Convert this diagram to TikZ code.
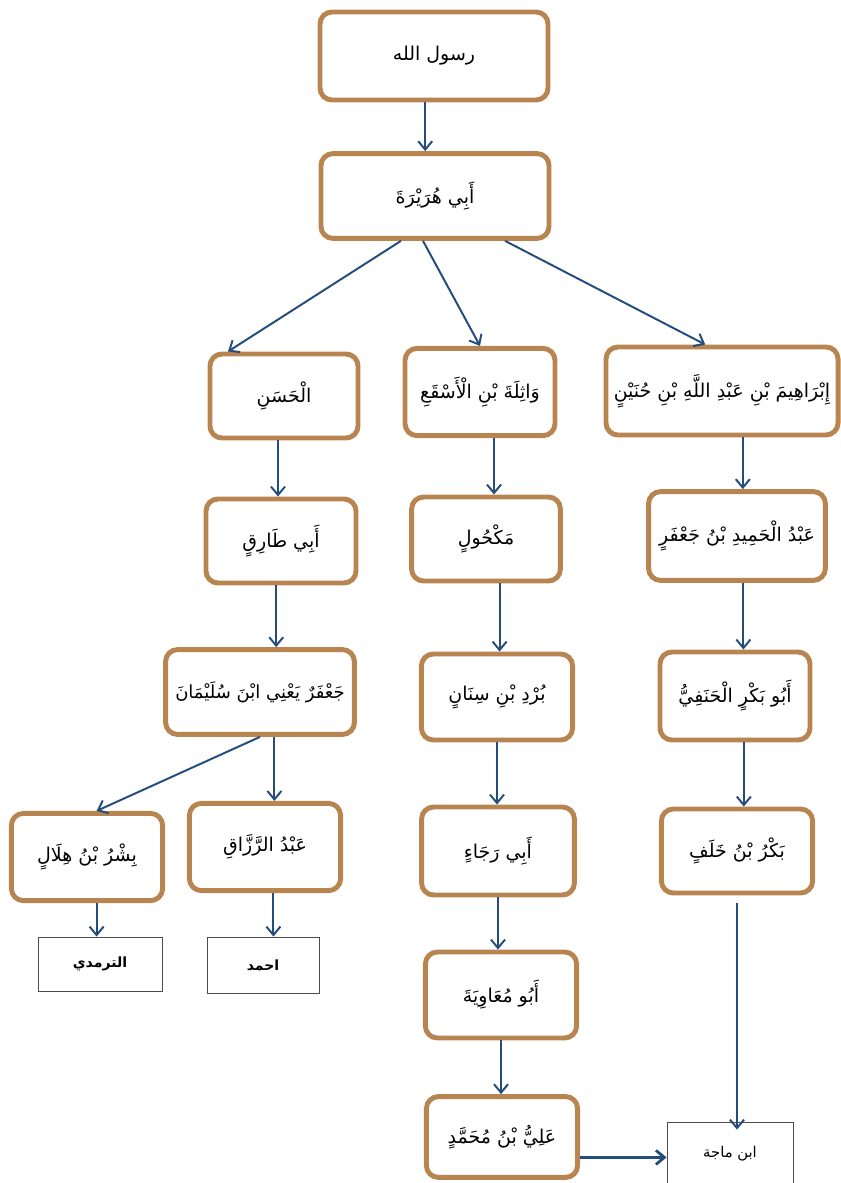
\documentclass[tikz,border=0pt]{standalone}
\usepackage{fontspec}
\newfontfamily\arabicfont[Script=Arabic]{DejaVu Sans}
\TeXXeTstate=1
\usetikzlibrary{arrows.meta}

\definecolor{boxbrown}{RGB}{184,132,80}
\definecolor{linkblue}{RGB}{36,76,124}
\newcommand{\ar}[1]{\beginR #1\endR}

\begin{document}
\begin{tikzpicture}[x=0.025cm, y=-0.025cm,
    narrator/.style={draw=boxbrown, line width=3.5pt, rounded corners=0.3cm, fill=white,
        font=\arabicfont\fontsize{13.5}{15}\selectfont},
    book/.style={draw=black!70, line width=0.6pt, fill=white,
        font=\arabicfont\fontsize{10.5}{12}\selectfont},
    link/.style={draw=linkblue, line width=1.4pt, -{Straight Barb[length=6pt,width=10pt]}}]
    \useasboundingbox (0,0) rectangle (841,1183);

    \node[narrator, minimum width=5.7cm, minimum height=2.2cm] (v1) at (434,56) {\ar{رسول الله}};
    \node[narrator, minimum width=5.7cm, minimum height=2.12cm] (v2) at (435,196) {\ar{أَبِي هُرَيْرَةَ}};
    \node[narrator, minimum width=3.7cm, minimum height=2.1cm] (v3) at (284,396) {\ar{الْحَسَنِ}};
    \node[narrator, minimum width=3.75cm, minimum height=2.18cm] (v4) at (480,392) {\ar{وَاثِلَةَ بْنِ الْأَسْقَعِ}};
    \node[narrator, minimum width=5.8cm, minimum height=2.2cm] (v5) at (722,391) {\ar{إِبْرَاهِيمَ بْنِ عَبْدِ اللَّهِ بْنِ حُنَيْنٍ}};
    \node[narrator, minimum width=3.75cm, minimum height=2.1cm] (v6) at (281,541) {\ar{أَبِي طَارِقٍ}};
    \node[narrator, minimum width=3.72cm, minimum height=2.1cm] (v7) at (486,539) {\ar{مَكْحُولٍ}};
    \node[narrator, minimum width=4.42cm, minimum height=2.22cm] (v8) at (737,536) {\ar{عَبْدُ الْحَمِيدِ بْنُ جَعْفَرٍ}};
    \node[narrator, font=\arabicfont\fontsize{12.8}{15}\selectfont, minimum width=4.72cm, minimum height=2.12cm] (v9) at (260,692) {\ar{جَعْفَرٌ يَعْنِي ابْنَ سُلَيْمَانَ}};
    \node[narrator, minimum width=3.78cm, minimum height=2.15cm] (v10) at (497,697) {\ar{بُرْدِ بْنِ سِنَانٍ}};
    \node[narrator, minimum width=3.75cm, minimum height=2.2cm] (v11) at (735,696) {\ar{أَبُو بَكْرٍ الْحَنَفِيُّ}};
    \node[narrator, minimum width=3.78cm, minimum height=2.18cm] (v12) at (87,857) {\ar{بِشْرُ بْنُ هِلَالٍ}};
    \node[narrator, minimum width=3.78cm, minimum height=2.18cm] (v13) at (265,847) {\ar{عَبْدُ الرَّزَّاقِ}};
    \node[narrator, minimum width=3.82cm, minimum height=2.2cm] (v14) at (498,851) {\ar{أَبِي رَجَاءٍ}};
    \node[narrator, minimum width=3.78cm, minimum height=2.1cm] (v15) at (737,851) {\ar{بَكْرُ بْنُ خَلَفٍ}};
    \node[narrator, minimum width=3.78cm, minimum height=2.15cm] (v16) at (501,995) {\ar{أَبُو مُعَاوِيَةَ}};
    \node[narrator, minimum width=3.78cm, minimum height=2.02cm] (v17) at (502,1137) {\ar{عَلِيُّ بْنُ مُحَمَّدٍ}};

    \node[book, font=\arabicfont\bfseries\fontsize{10}{12}\selectfont, minimum width=3.1cm, minimum height=1.35cm] (b1) at (100,964) {\ar{الترمدي}};
    \node[book, font=\arabicfont\bfseries\fontsize{10}{12}\selectfont, minimum width=2.8cm, minimum height=1.4cm] (b2) at (263,965) {\ar{احمد}};
    \node[book, minimum width=3.15cm, minimum height=1.6cm] (b3) at (730,1154) {\ar{ابن ماجة}};

    \draw[link] ([xshift=-0.22cm]v1.south) -- ([xshift=-0.22cm]v1.south |- v2.north);
    \draw[link] ([xshift=-0.85cm]v2.south) -- ([xshift=-1.4cm]v3.north);
    \draw[link] ([xshift=-0.3cm]v2.south) -- (v4.north);
    \draw[link] ([xshift=1.75cm]v2.south) -- ([xshift=-0.42cm]v5.north);
    \draw[link] ([xshift=-0.15cm]v3.south) -- ([xshift=-0.15cm]v3.south |- v6.north);
    \draw[link] ([xshift=0.35cm]v4.south) -- ([xshift=0.35cm]v4.south |- v7.north);
    \draw[link] ([xshift=0.52cm]v5.south) -- ([xshift=0.52cm]v5.south |- v8.north);
    \draw[link] ([xshift=-0.12cm]v6.south) -- ([xshift=-0.12cm]v6.south |- v9.north);
    \draw[link] ([xshift=0.34cm]v7.south) -- ([xshift=0.34cm]v7.south |- v10.north);
    \draw[link] ([xshift=0.16cm]v8.south) -- ([xshift=0.16cm]v8.south |- v11.north);
    \draw[link] (v9.south) -- ([xshift=0.24cm]v12.north);
    \draw[link] ([xshift=0.36cm]v9.south) -- ([xshift=0.36cm]v9.south |- v13.north);
    \draw[link] (v10.south) -- (v10.south |- v14.north);
    \draw[link] ([xshift=0.22cm]v11.south) -- ([xshift=0.22cm]v11.south |- v15.north);
    \draw[link] ([xshift=0.24cm]v12.south) -- ([xshift=0.24cm]v12.south |- b1.north);
    \draw[link] ([xshift=0.21cm]v13.south) -- ([xshift=0.21cm]v13.south |- b2.north);
    \draw[link] (v14.south) -- (v14.south |- v16.north);
    \draw[link] ([yshift=-0.2cm]v15.south) -- ([yshift=-0.2cm]v15.south |- b3.north);
    \draw[link] (v16.south) -- (v16.south |- v17.north);
    \draw[link, line width=2pt] ([yshift=-0.51cm]v17.east) -- ([yshift=-0.51cm]v17.east -| b3.west);
\end{tikzpicture}
\end{document}
